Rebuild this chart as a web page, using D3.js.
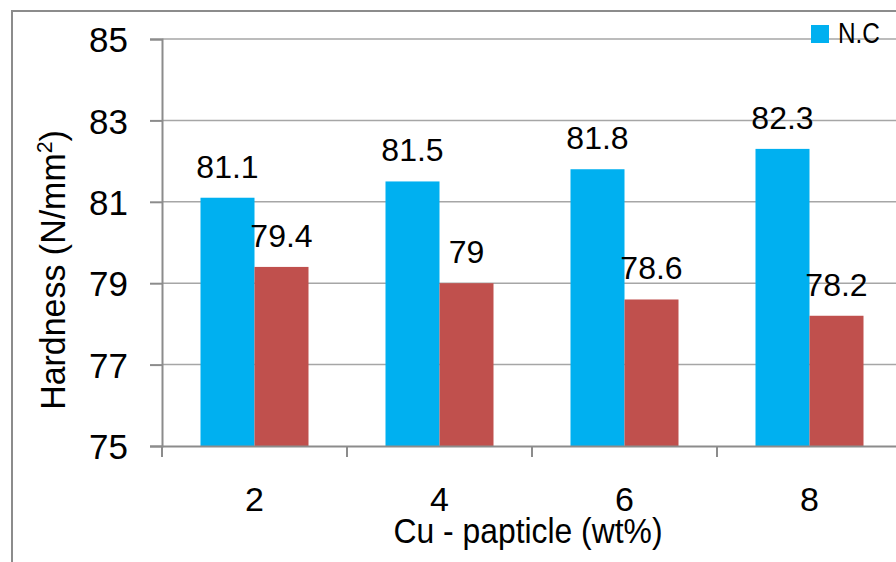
<!DOCTYPE html>
<html>
<head>
<meta charset="utf-8">
<script src="https://cdn.jsdelivr.net/npm/d3@7"></script>
<style>
  html, body { margin: 0; padding: 0; background: #fff; }
  svg { display: block; }
  .num { font-family: "Liberation Sans", Arial, sans-serif; fill: #000; }
  .narrow { font-family: "Liberation Sans Narrow", "Arial Narrow", "Liberation Sans", sans-serif; fill: #000; }
</style>
</head>
<body>
<svg id="chart" width="896" height="562"></svg>
<script>
// Hardness of N.C and the second sample vs. Cu particle content
const categories = ["2", "4", "6", "8"];
const seriesNames = ["N.C", "B"];
const ncValues = [81.1, 81.5, 81.8, 82.3];
const otherValues = [79.4, 79, 78.6, 78.2];
const yTicks = [75, 77, 79, 81, 83, 85];
const colors = ["#00B0F0", "#C0504D"];

const W = 896, H = 562;
const margin = { left: 162, top: 39, bottom: 116 };
const plotBottom = H - margin.bottom;   // 446
const plotRight = 902;                  // plot continues past the visible edge

const svg = d3.select("#chart");

// outer frame (left and top edges)
svg.append("path")
  .attr("d", `M12,${H} L12,11 L${W},11`)
  .attr("fill", "none")
  .attr("stroke", "#8c8c8c")
  .attr("stroke-width", 2);

const x = d3.scaleBand().domain(categories).range([margin.left, plotRight]).paddingInner(0).paddingOuter(0);
const xs = d3.scaleBand().domain([0, 1]).range([0, x.bandwidth()]).paddingInner(0).paddingOuter(0.713);
const y = d3.scaleLinear().domain([75, 85]).range([plotBottom, margin.top]);

// horizontal gridlines
svg.append("g").selectAll("line")
  .data(yTicks.filter(t => t !== 75))
  .join("line")
  .attr("x1", margin.left).attr("x2", W)
  .attr("y1", d => y(d)).attr("y2", d => y(d))
  .attr("stroke", "#a6a6a6").attr("stroke-width", 1.5);

// bars
const data = categories.map((c, i) => ({ c, vals: [ncValues[i], otherValues[i]] }));
const groups = svg.append("g").selectAll("g").data(data).join("g")
  .attr("transform", d => `translate(${x(d.c)},0)`);

groups.selectAll("rect")
  .data(d => d.vals.map((v, k) => ({ v, k })))
  .join("rect")
  .attr("x", d => xs(d.k))
  .attr("width", xs.bandwidth())
  .attr("y", d => y(d.v))
  .attr("height", d => plotBottom - y(d.v))
  .attr("fill", d => colors[d.k]);

groups.selectAll("text")
  .data(d => d.vals.map((v, k) => ({ v, k })))
  .join("text")
  .attr("class", "num")
  .attr("x", d => xs(d.k) + xs.bandwidth() / 2)
  .attr("y", d => y(d.v) - 20)
  .attr("text-anchor", "middle")
  .attr("font-size", 32)
  .text(d => d.v);

// y axis
const yAxis = svg.append("g")
  .attr("transform", `translate(${margin.left},0)`)
  .call(d3.axisLeft(y).tickValues(yTicks).tickSize(12).tickPadding(22).tickFormat(d3.format("d")));
yAxis.select(".domain").attr("stroke", "#8c8c8c").attr("stroke-width", 2);
yAxis.selectAll(".tick line").attr("stroke", "#8c8c8c").attr("stroke-width", 2);
yAxis.selectAll(".tick text")
  .attr("class", "num").attr("font-size", 35).attr("dy", "0.36em");

// x axis
const xAxis = svg.append("g")
  .attr("transform", `translate(0,${plotBottom})`)
  .call(d3.axisBottom(x).tickSize(0).tickPadding(41));
xAxis.select(".domain").attr("stroke", "#8c8c8c").attr("stroke-width", 2);
xAxis.selectAll(".tick text").attr("class", "num").attr("font-size", 34);
xAxis.append("g").selectAll("line")
  .data(categories.concat(["end"]))
  .join("line")
  .attr("x1", (d, i) => margin.left + i * x.bandwidth())
  .attr("x2", (d, i) => margin.left + i * x.bandwidth())
  .attr("y1", 0).attr("y2", 11)
  .attr("stroke", "#8c8c8c").attr("stroke-width", 2);

// axis titles (horizontally condensed)
svg.append("text")
  .attr("class", "narrow")
  .attr("transform", "translate(528,543) scale(0.91,1)")
  .attr("text-anchor", "middle")
  .attr("font-size", 35)
  .text("Cu - papticle (wt%)");

const yt = svg.append("text")
  .attr("class", "narrow")
  .attr("transform", "translate(65,270) rotate(-90) scale(0.97,1)")
  .attr("text-anchor", "middle")
  .attr("font-size", 35);
yt.append("tspan").text("Hardness (N/mm");
yt.append("tspan").attr("font-size", 22).attr("dy", -13).text("2");
yt.append("tspan").attr("dy", 13).text(")");

// legend
const leg = svg.append("g").attr("transform", "translate(811,25)");
leg.append("rect").attr("width", 18).attr("height", 18).attr("fill", colors[0]);
leg.append("text").attr("class", "narrow")
  .attr("transform", "translate(27,18) scale(0.84,1)")
  .attr("font-size", 29).text(seriesNames[0]);
</script>
</body>
</html>
